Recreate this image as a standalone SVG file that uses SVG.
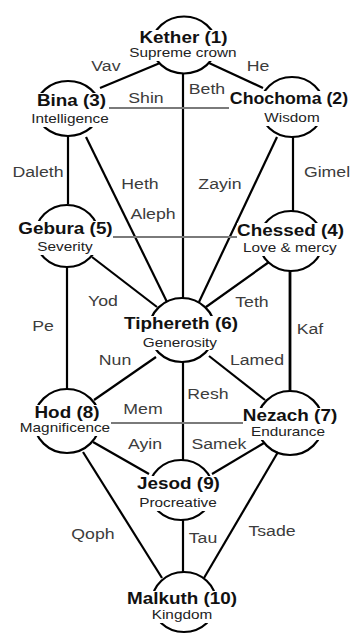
<svg xmlns="http://www.w3.org/2000/svg" width="351" height="635" viewBox="0 0 351 635">
<style>
text { font-family: "Liberation Sans", Arial, sans-serif; text-anchor: middle; transform-box: fill-box; transform-origin: center; transform: scaleX(1.18); }
.t { font-size: 16px; font-weight: bold; fill: #111; }
.s { font-size: 13px; fill: #222; }
.l { font-size: 15px; fill: #3c3c3c; }
.n { fill: none; stroke: #000; stroke-width: 2.2; }
.bg { fill: #fff; }
.c line { stroke: #000; stroke-width: 2.2; }
.c line.h { stroke: #7a7a7a; stroke-width: 1.8; }
</style>
<rect width="351" height="635" fill="#fff"/>
<g id="connectors" class="c">
  <line x1="160" y1="63" x2="100" y2="88"/>
  <line x1="209" y1="63" x2="263" y2="88"/>
  <line x1="183" y1="73" x2="183" y2="298"/>
  <line class="h" x1="100" y1="108" x2="262" y2="108"/>
  <line x1="68" y1="136" x2="68" y2="204"/>
  <line x1="86" y1="137" x2="167" y2="302"/>
  <line x1="277" y1="137" x2="199" y2="302"/>
  <line x1="293" y1="136" x2="293" y2="211"/>
  <line class="h" x1="80" y1="237" x2="246" y2="237"/>
  <line x1="92" y1="257" x2="157" y2="307"/>
  <line x1="269" y1="262" x2="206" y2="307"/>
  <line x1="67" y1="267" x2="67" y2="389"/>
  <line x1="290" y1="271" x2="290" y2="391" style="stroke-width:2.8"/>
  <line x1="156" y1="357" x2="94" y2="400"/>
  <line x1="209" y1="356" x2="265" y2="400"/>
  <line x1="183" y1="362" x2="183" y2="460"/>
  <line class="h" x1="100" y1="423" x2="252" y2="423"/>
  <line x1="93" y1="442" x2="149" y2="474"/>
  <line x1="264" y1="443" x2="212" y2="474"/>
  <line x1="83" y1="452" x2="162" y2="578"/>
  <line x1="278" y1="452" x2="204" y2="578"/>
  <line x1="183" y1="520" x2="183" y2="572"/>
</g>
<g id="labels">
  <text class="l" x="106" y="71">Vav</text>
  <text class="l" x="258" y="71">He</text>
  <text class="l" x="146" y="103">Shin</text>
  <text class="l" x="207" y="94">Beth</text>
  <text class="l" x="38" y="177">Daleth</text>
  <text class="l" x="140" y="189">Heth</text>
  <text class="l" x="220" y="189">Zayin</text>
  <text class="l" x="327" y="177">Gimel</text>
  <text class="l" x="153" y="219">Aleph</text>
  <text class="l" x="103" y="306">Yod</text>
  <text class="l" x="252" y="307">Teth</text>
  <text class="l" x="43" y="331">Pe</text>
  <text class="l" x="310" y="334">Kaf</text>
  <text class="l" x="115" y="365">Nun</text>
  <text class="l" x="257" y="365">Lamed</text>
  <text class="l" x="208" y="399">Resh</text>
  <text class="l" x="143" y="414">Mem</text>
  <text class="l" x="145" y="449">Ayin</text>
  <text class="l" x="219" y="449">Samek</text>
  <text class="l" x="93" y="539">Qoph</text>
  <text class="l" x="203" y="543">Tau</text>
  <text class="l" x="272" y="536">Tsade</text>
</g>
<g id="kether">
  <ellipse class="n" cx="184" cy="45" rx="32" ry="28.5"/>
  <rect class="bg" x="128" y="30" width="110" height="31"/>
  <text class="t" x="183.5" y="43">Kether (1)</text>
  <text class="s" x="183" y="57.5">Supreme crown</text>
</g>
<g id="bina">
  <ellipse class="n" cx="68" cy="108.5" rx="32" ry="27.5"/>
  <rect class="bg" x="31" y="93" width="78" height="34"/>
  <text class="t" x="71.5" y="105.7">Bina (3)</text>
  <text class="s" x="70" y="123.5">Intelligence</text>
</g>
<g id="chochoma">
  <ellipse class="n" cx="292" cy="107" rx="32" ry="30"/>
  <rect class="bg" x="229" y="91" width="122" height="35"/>
  <text class="t" x="289" y="103.7" style="transform:scaleX(1.11)">Chochoma (2)</text>
  <text class="s" x="292" y="122.5">Wisdom</text>
</g>
<g id="gebura">
  <ellipse class="n" cx="67" cy="236" rx="32" ry="31"/>
  <rect class="bg" x="18" y="221" width="95" height="34"/>
  <text class="t" x="65.5" y="233.7">Gebura (5)</text>
  <text class="s" x="65" y="251.5">Severity</text>
</g>
<g id="chessed">
  <ellipse class="n" cx="291" cy="241" rx="32" ry="30"/>
  <rect class="bg" x="237" y="223" width="107" height="33"/>
  <text class="t" x="290.5" y="235.7">Chessed (4)</text>
  <text class="s" x="290" y="252.5">Love &amp; mercy</text>
</g>
<g id="tiphereth">
  <ellipse class="n" cx="182" cy="330" rx="33" ry="32"/>
  <rect class="bg" x="124" y="316" width="114" height="34"/>
  <text class="t" x="181" y="329">Tiphereth (6)</text>
  <text class="s" x="180" y="347">Generosity</text>
</g>
<g id="hod">
  <ellipse class="n" cx="67" cy="421" rx="33" ry="32"/>
  <rect class="bg" x="20" y="405" width="91" height="31"/>
  <text class="t" x="67" y="417.7">Hod (8)</text>
  <text class="s" x="65" y="432.5">Magnificence</text>
</g>
<g id="nezach">
  <ellipse class="n" cx="290" cy="423" rx="33" ry="32"/>
  <rect class="bg" x="243" y="408" width="94" height="32"/>
  <text class="t" x="290" y="420.7">Nezach (7)</text>
  <text class="s" x="288" y="436.5">Endurance</text>
</g>
<g id="jesod">
  <ellipse class="n" cx="181" cy="490" rx="32" ry="30"/>
  <rect class="bg" x="137" y="476" width="83" height="35"/>
  <text class="t" x="178.5" y="488.7">Jesod (9)</text>
  <text class="s" x="178" y="507.5">Procreative</text>
</g>
<g id="malkuth">
  <ellipse class="n" cx="184" cy="602" rx="32" ry="30"/>
  <rect class="bg" x="127" y="591" width="110" height="32"/>
  <text class="t" x="182" y="603.7">Malkuth (10)</text>
  <text class="s" x="182" y="619.5">Kingdom</text>
</g>
</svg>
